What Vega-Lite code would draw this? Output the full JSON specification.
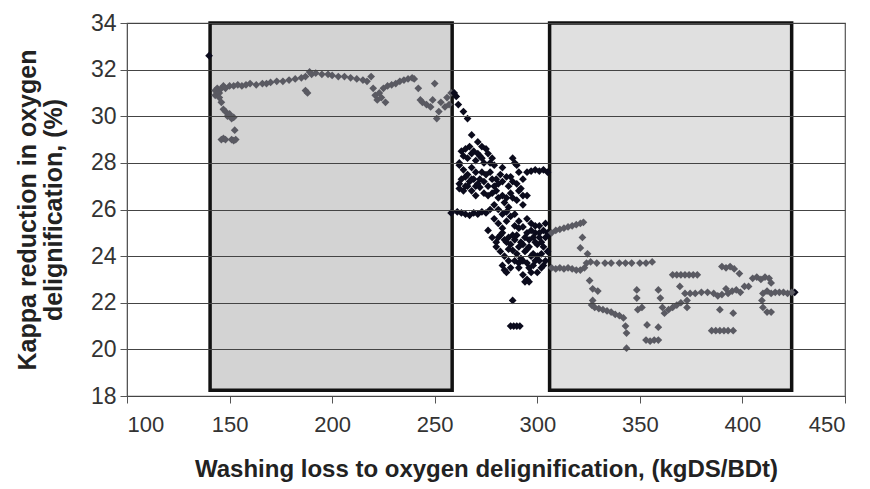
{
  "$schema": "https://vega.github.io/schema/vega-lite/v6.json",
  "width": 718,
  "height": 373,
  "autosize": {"type": "none"},
  "padding": {"left": 127, "top": 23, "right": 25, "bottom": 93},
  "background": "white",
  "config": {
    "font": "Liberation Sans",
    "view": {"stroke": "#555", "strokeWidth": 1.2}
  },
  "datasets": {
    "zones": [
      {"zone": "A", "x1": 140.5, "x2": 258.5, "y1": 18.25, "y2": 34},
      {"zone": "C", "x1": 306, "x2": 424, "y1": 18.25, "y2": 34}
    ],
    "pts": [
      {"g": "gray", "x": 143, "y": 31.1}, {"g": "gray", "x": 143, "y": 30.9}, {"g": "gray", "x": 144, "y": 31.2}, {"g": "gray", "x": 144, "y": 31.0}, {"g": "gray", "x": 145, "y": 31.0}, {"g": "gray", "x": 145, "y": 30.8}, {"g": "gray", "x": 146, "y": 31.2}, {"g": "gray", "x": 147, "y": 31.3}, {"g": "gray", "x": 148, "y": 31.2}, {"g": "gray", "x": 150, "y": 31.3}, {"g": "gray", "x": 152, "y": 31.3}, {"g": "gray", "x": 154, "y": 31.35}, {"g": "gray", "x": 156, "y": 31.3}, {"g": "gray", "x": 158, "y": 31.35}, {"g": "gray", "x": 160, "y": 31.4}, {"g": "gray", "x": 163, "y": 31.35}, {"g": "gray", "x": 166, "y": 31.4}, {"g": "gray", "x": 168, "y": 31.4}, {"g": "gray", "x": 170, "y": 31.45}, {"g": "gray", "x": 173, "y": 31.5}, {"g": "gray", "x": 176, "y": 31.5}, {"g": "gray", "x": 179, "y": 31.55}, {"g": "gray", "x": 182, "y": 31.6}, {"g": "gray", "x": 185, "y": 31.65}, {"g": "gray", "x": 187, "y": 31.7}, {"g": "gray", "x": 189, "y": 31.9}, {"g": "gray", "x": 190, "y": 31.8}, {"g": "gray", "x": 192, "y": 31.85}, {"g": "gray", "x": 195, "y": 31.8}, {"g": "gray", "x": 198, "y": 31.8}, {"g": "gray", "x": 200, "y": 31.75}, {"g": "gray", "x": 203, "y": 31.7}, {"g": "gray", "x": 206, "y": 31.7}, {"g": "gray", "x": 209, "y": 31.65}, {"g": "gray", "x": 212, "y": 31.6}, {"g": "gray", "x": 215, "y": 31.55}, {"g": "gray", "x": 217, "y": 31.5}, {"g": "gray", "x": 219, "y": 31.7}, {"g": "gray", "x": 220, "y": 31.2}, {"g": "gray", "x": 221, "y": 30.9}, {"g": "gray", "x": 222, "y": 30.7}, {"g": "gray", "x": 223, "y": 31.0}, {"g": "gray", "x": 224, "y": 30.8}, {"g": "gray", "x": 225, "y": 31.2}, {"g": "gray", "x": 226, "y": 30.6}, {"g": "gray", "x": 227, "y": 31.3}, {"g": "gray", "x": 229, "y": 31.35}, {"g": "gray", "x": 231, "y": 31.4}, {"g": "gray", "x": 233, "y": 31.5}, {"g": "gray", "x": 235, "y": 31.55}, {"g": "gray", "x": 237, "y": 31.6}, {"g": "gray", "x": 239, "y": 31.65}, {"g": "gray", "x": 240, "y": 31.6}, {"g": "gray", "x": 242, "y": 31.2}, {"g": "gray", "x": 243, "y": 30.7}, {"g": "gray", "x": 244, "y": 30.6}, {"g": "gray", "x": 246, "y": 30.5}, {"g": "gray", "x": 248, "y": 30.4}, {"g": "gray", "x": 249, "y": 30.7}, {"g": "gray", "x": 250, "y": 31.4}, {"g": "gray", "x": 251, "y": 29.9}, {"g": "gray", "x": 252, "y": 30.2}, {"g": "gray", "x": 253, "y": 30.6}, {"g": "gray", "x": 255, "y": 30.4}, {"g": "gray", "x": 256, "y": 30.8}, {"g": "gray", "x": 257, "y": 30.5}, {"g": "gray", "x": 258, "y": 31.0}, {"g": "gray", "x": 187, "y": 31.1}, {"g": "gray", "x": 188, "y": 31.0}, {"g": "gray", "x": 146, "y": 30.6}, {"g": "gray", "x": 147, "y": 30.3}, {"g": "gray", "x": 148, "y": 30.2}, {"g": "gray", "x": 149, "y": 30.0}, {"g": "gray", "x": 150, "y": 30.1}, {"g": "gray", "x": 151, "y": 29.9}, {"g": "gray", "x": 152, "y": 29.95}, {"g": "gray", "x": 152.5, "y": 29.4}, {"g": "gray", "x": 146, "y": 29.0}, {"g": "gray", "x": 147, "y": 29.05}, {"g": "gray", "x": 148, "y": 29.0}, {"g": "gray", "x": 151, "y": 29.0}, {"g": "gray", "x": 152, "y": 28.95}, {"g": "gray", "x": 153, "y": 29.0},
      {"g": "black", "x": 140, "y": 32.6}, {"g": "black", "x": 259.5, "y": 31.0}, {"g": "black", "x": 260.5, "y": 30.85}, {"g": "black", "x": 261.5, "y": 30.5}, {"g": "black", "x": 264, "y": 30.2}, {"g": "black", "x": 266, "y": 29.9}, {"g": "black", "x": 268, "y": 29.2}, {"g": "black", "x": 271, "y": 28.9}, {"g": "black", "x": 273, "y": 28.7}, {"g": "black", "x": 264, "y": 28.3}, {"g": "black", "x": 266, "y": 28.2}, {"g": "black", "x": 268, "y": 28.4}, {"g": "black", "x": 270, "y": 28.1}, {"g": "black", "x": 272, "y": 28.3}, {"g": "black", "x": 274, "y": 28.0}, {"g": "black", "x": 276, "y": 28.4}, {"g": "black", "x": 278, "y": 28.2}, {"g": "black", "x": 262, "y": 27.9}, {"g": "black", "x": 264, "y": 27.7}, {"g": "black", "x": 266, "y": 27.5}, {"g": "black", "x": 268, "y": 27.8}, {"g": "black", "x": 270, "y": 27.6}, {"g": "black", "x": 272, "y": 27.3}, {"g": "black", "x": 262, "y": 27.1}, {"g": "black", "x": 265, "y": 27.4}, {"g": "black", "x": 268, "y": 26.8}, {"g": "black", "x": 270, "y": 27.0}, {"g": "black", "x": 272, "y": 26.95}, {"g": "black", "x": 274, "y": 27.2}, {"g": "black", "x": 276, "y": 27.0}, {"g": "black", "x": 278, "y": 27.3}, {"g": "black", "x": 280, "y": 27.3}, {"g": "black", "x": 282, "y": 27.5}, {"g": "black", "x": 283, "y": 27.8}, {"g": "black", "x": 285, "y": 27.4}, {"g": "black", "x": 287, "y": 27.4}, {"g": "black", "x": 288, "y": 28.2}, {"g": "black", "x": 289, "y": 28.0}, {"g": "black", "x": 290, "y": 27.9}, {"g": "black", "x": 291, "y": 27.6}, {"g": "black", "x": 293, "y": 27.3}, {"g": "black", "x": 295, "y": 27.6}, {"g": "black", "x": 297, "y": 27.65}, {"g": "black", "x": 299, "y": 27.7}, {"g": "black", "x": 301, "y": 27.65}, {"g": "black", "x": 303, "y": 27.7}, {"g": "black", "x": 305, "y": 27.6}, {"g": "black", "x": 278, "y": 26.7}, {"g": "black", "x": 280, "y": 26.8}, {"g": "black", "x": 283, "y": 26.6}, {"g": "black", "x": 285, "y": 26.5}, {"g": "black", "x": 287, "y": 26.7}, {"g": "black", "x": 290, "y": 26.4}, {"g": "black", "x": 293, "y": 26.6}, {"g": "black", "x": 295, "y": 26.6}, {"g": "black", "x": 277, "y": 26.0}, {"g": "black", "x": 258, "y": 25.85}, {"g": "black", "x": 261, "y": 25.9}, {"g": "black", "x": 263, "y": 25.85}, {"g": "black", "x": 265, "y": 25.8}, {"g": "black", "x": 267, "y": 25.75}, {"g": "black", "x": 269, "y": 25.85}, {"g": "black", "x": 271, "y": 25.8}, {"g": "black", "x": 273, "y": 25.9}, {"g": "black", "x": 275, "y": 25.85}, {"g": "black", "x": 279, "y": 25.6}, {"g": "black", "x": 281, "y": 25.4}, {"g": "black", "x": 283, "y": 25.2}, {"g": "black", "x": 285, "y": 25.5}, {"g": "black", "x": 287, "y": 25.7}, {"g": "black", "x": 289, "y": 25.3}, {"g": "black", "x": 291, "y": 25.2}, {"g": "black", "x": 293, "y": 25.25}, {"g": "black", "x": 295, "y": 25.0}, {"g": "black", "x": 297, "y": 25.4}, {"g": "black", "x": 299, "y": 25.3}, {"g": "black", "x": 301, "y": 25.3}, {"g": "black", "x": 304, "y": 25.4}, {"g": "black", "x": 305, "y": 25.0}, {"g": "black", "x": 276, "y": 25.1}, {"g": "black", "x": 278, "y": 24.8}, {"g": "black", "x": 280, "y": 24.6}, {"g": "black", "x": 282, "y": 24.9}, {"g": "black", "x": 283, "y": 25.0}, {"g": "black", "x": 285, "y": 24.6}, {"g": "black", "x": 287, "y": 24.5}, {"g": "black", "x": 289, "y": 24.7}, {"g": "black", "x": 290, "y": 24.9}, {"g": "black", "x": 292, "y": 24.6}, {"g": "black", "x": 294, "y": 24.8}, {"g": "black", "x": 296, "y": 24.7}, {"g": "black", "x": 298, "y": 24.8}, {"g": "black", "x": 300, "y": 24.5}, {"g": "black", "x": 302, "y": 24.6}, {"g": "black", "x": 304, "y": 24.8}, {"g": "black", "x": 280, "y": 24.4}, {"g": "black", "x": 282, "y": 24.2}, {"g": "black", "x": 284, "y": 24.0}, {"g": "black", "x": 286, "y": 24.3}, {"g": "black", "x": 288, "y": 24.25}, {"g": "black", "x": 290, "y": 24.1}, {"g": "black", "x": 292, "y": 23.9}, {"g": "black", "x": 294, "y": 24.2}, {"g": "black", "x": 296, "y": 24.4}, {"g": "black", "x": 298, "y": 24.1}, {"g": "black", "x": 300, "y": 24.0}, {"g": "black", "x": 302, "y": 24.1}, {"g": "black", "x": 304, "y": 23.8}, {"g": "black", "x": 305, "y": 24.2}, {"g": "black", "x": 283, "y": 23.6}, {"g": "black", "x": 285, "y": 23.3}, {"g": "black", "x": 287, "y": 23.5}, {"g": "black", "x": 291, "y": 23.7}, {"g": "black", "x": 293, "y": 23.2}, {"g": "black", "x": 295, "y": 23.0}, {"g": "black", "x": 296, "y": 23.5}, {"g": "black", "x": 298, "y": 23.6}, {"g": "black", "x": 300, "y": 23.3}, {"g": "black", "x": 302, "y": 23.5}, {"g": "black", "x": 288, "y": 22.1}, {"g": "black", "x": 287, "y": 21.0}, {"g": "black", "x": 288.5, "y": 21.0}, {"g": "black", "x": 290, "y": 21.0}, {"g": "black", "x": 291.5, "y": 21.0}, {"g": "black", "x": 305.5, "y": 24.95}, {"g": "black", "x": 425.5, "y": 22.45},
      {"g": "black", "x": 262, "y": 28.0}, {"g": "black", "x": 263, "y": 28.5}, {"g": "black", "x": 265, "y": 28.6}, {"g": "black", "x": 267, "y": 28.7}, {"g": "black", "x": 269, "y": 28.5}, {"g": "black", "x": 271, "y": 28.4}, {"g": "black", "x": 273, "y": 28.2}, {"g": "black", "x": 275, "y": 28.6}, {"g": "black", "x": 277, "y": 28.0}, {"g": "black", "x": 279, "y": 27.9}, {"g": "black", "x": 263, "y": 27.3}, {"g": "black", "x": 265, "y": 27.0}, {"g": "black", "x": 267, "y": 27.2}, {"g": "black", "x": 269, "y": 27.3}, {"g": "black", "x": 271, "y": 27.1}, {"g": "black", "x": 273, "y": 27.6}, {"g": "black", "x": 275, "y": 27.5}, {"g": "black", "x": 277, "y": 27.6}, {"g": "black", "x": 279, "y": 27.0}, {"g": "black", "x": 281, "y": 27.1}, {"g": "black", "x": 283, "y": 27.2}, {"g": "black", "x": 286, "y": 27.0}, {"g": "black", "x": 288, "y": 27.2}, {"g": "black", "x": 290, "y": 27.1}, {"g": "black", "x": 292, "y": 26.9}, {"g": "black", "x": 281, "y": 26.5}, {"g": "black", "x": 284, "y": 26.3}, {"g": "black", "x": 286, "y": 26.1}, {"g": "black", "x": 288, "y": 26.5}, {"g": "black", "x": 291, "y": 26.8}, {"g": "black", "x": 293, "y": 26.2}, {"g": "black", "x": 279, "y": 26.2}, {"g": "black", "x": 281, "y": 26.0}, {"g": "black", "x": 283, "y": 25.8}, {"g": "black", "x": 285, "y": 25.9}, {"g": "black", "x": 289, "y": 25.8}, {"g": "black", "x": 291, "y": 25.5}, {"g": "black", "x": 295, "y": 25.6}, {"g": "black", "x": 297, "y": 25.1}, {"g": "black", "x": 299, "y": 25.0}, {"g": "black", "x": 301, "y": 25.0}, {"g": "black", "x": 303, "y": 25.1}, {"g": "black", "x": 281, "y": 24.8}, {"g": "black", "x": 284, "y": 24.7}, {"g": "black", "x": 286, "y": 24.8}, {"g": "black", "x": 288, "y": 24.9}, {"g": "black", "x": 291, "y": 24.4}, {"g": "black", "x": 293, "y": 24.5}, {"g": "black", "x": 295, "y": 24.3}, {"g": "black", "x": 297, "y": 24.0}, {"g": "black", "x": 299, "y": 24.6}, {"g": "black", "x": 301, "y": 24.8}, {"g": "black", "x": 303, "y": 24.4}, {"g": "black", "x": 289, "y": 23.8}, {"g": "black", "x": 291, "y": 23.5}, {"g": "black", "x": 293, "y": 23.8}, {"g": "black", "x": 295, "y": 23.7}, {"g": "black", "x": 297, "y": 23.3}, {"g": "black", "x": 299, "y": 23.8}, {"g": "black", "x": 301, "y": 23.8}, {"g": "black", "x": 303, "y": 23.6}, {"g": "black", "x": 286, "y": 23.8}, {"g": "black", "x": 284, "y": 23.4}, {"g": "black", "x": 294, "y": 22.9}, {"g": "black", "x": 296, "y": 22.9}, {"g": "black", "x": 262, "y": 26.9}, {"g": "black", "x": 264, "y": 26.8}, {"g": "black", "x": 266, "y": 27.0}, {"g": "black", "x": 268, "y": 27.3}, {"g": "black", "x": 270, "y": 26.6}, {"g": "black", "x": 274, "y": 26.7}, {"g": "black", "x": 276, "y": 26.6},
      {"g": "gray", "x": 307, "y": 25.0}, {"g": "gray", "x": 309, "y": 25.1}, {"g": "gray", "x": 311, "y": 25.15}, {"g": "gray", "x": 313, "y": 25.2}, {"g": "gray", "x": 315, "y": 25.25}, {"g": "gray", "x": 317, "y": 25.3}, {"g": "gray", "x": 319, "y": 25.35}, {"g": "gray", "x": 321, "y": 25.4}, {"g": "gray", "x": 322.5, "y": 25.45}, {"g": "gray", "x": 322, "y": 24.8}, {"g": "gray", "x": 321, "y": 24.35}, {"g": "gray", "x": 324.5, "y": 24.1}, {"g": "gray", "x": 324, "y": 23.7}, {"g": "gray", "x": 307, "y": 23.5}, {"g": "gray", "x": 309, "y": 23.45}, {"g": "gray", "x": 311, "y": 23.5}, {"g": "gray", "x": 313, "y": 23.45}, {"g": "gray", "x": 315, "y": 23.5}, {"g": "gray", "x": 317, "y": 23.45}, {"g": "gray", "x": 319, "y": 23.4}, {"g": "gray", "x": 321, "y": 23.4}, {"g": "gray", "x": 323, "y": 23.5}, {"g": "gray", "x": 326, "y": 23.75}, {"g": "gray", "x": 329, "y": 23.7}, {"g": "gray", "x": 333, "y": 23.7}, {"g": "gray", "x": 336, "y": 23.7}, {"g": "gray", "x": 340, "y": 23.7}, {"g": "gray", "x": 343, "y": 23.7}, {"g": "gray", "x": 346, "y": 23.7}, {"g": "gray", "x": 350, "y": 23.7}, {"g": "gray", "x": 353, "y": 23.7}, {"g": "gray", "x": 356, "y": 23.75}, {"g": "gray", "x": 325.5, "y": 22.95}, {"g": "gray", "x": 327, "y": 22.6}, {"g": "gray", "x": 329.5, "y": 22.5}, {"g": "gray", "x": 327, "y": 22.1}, {"g": "gray", "x": 326.5, "y": 21.9}, {"g": "gray", "x": 328, "y": 21.8}, {"g": "gray", "x": 330, "y": 21.75}, {"g": "gray", "x": 332, "y": 21.7}, {"g": "gray", "x": 334, "y": 21.65}, {"g": "gray", "x": 336, "y": 21.6}, {"g": "gray", "x": 338, "y": 21.5}, {"g": "gray", "x": 340, "y": 21.45}, {"g": "gray", "x": 342, "y": 21.35}, {"g": "gray", "x": 343, "y": 21.0}, {"g": "gray", "x": 343.5, "y": 20.7}, {"g": "gray", "x": 343.5, "y": 20.05}, {"g": "gray", "x": 348.5, "y": 22.55}, {"g": "gray", "x": 348.5, "y": 22.2}, {"g": "gray", "x": 351, "y": 21.8}, {"g": "gray", "x": 349, "y": 21.7}, {"g": "gray", "x": 353.5, "y": 21.05}, {"g": "gray", "x": 359, "y": 20.95}, {"g": "gray", "x": 353, "y": 20.4}, {"g": "gray", "x": 355, "y": 20.35}, {"g": "gray", "x": 357, "y": 20.4}, {"g": "gray", "x": 359, "y": 20.4}, {"g": "gray", "x": 359, "y": 22.55}, {"g": "gray", "x": 360, "y": 22.2}, {"g": "gray", "x": 361, "y": 21.8}, {"g": "gray", "x": 362, "y": 21.55}, {"g": "gray", "x": 364, "y": 21.7}, {"g": "gray", "x": 366, "y": 21.8}, {"g": "gray", "x": 368, "y": 21.9}, {"g": "gray", "x": 370, "y": 22.0}, {"g": "gray", "x": 372, "y": 22.4}, {"g": "gray", "x": 369.5, "y": 22.7}, {"g": "gray", "x": 373, "y": 22.1}, {"g": "gray", "x": 366, "y": 23.2}, {"g": "gray", "x": 368, "y": 23.2}, {"g": "gray", "x": 370, "y": 23.2}, {"g": "gray", "x": 372, "y": 23.2}, {"g": "gray", "x": 374, "y": 23.2}, {"g": "gray", "x": 376, "y": 23.2}, {"g": "gray", "x": 378, "y": 23.2}, {"g": "gray", "x": 374.5, "y": 22.4}, {"g": "gray", "x": 373, "y": 21.8}, {"g": "gray", "x": 377, "y": 22.4}, {"g": "gray", "x": 380, "y": 22.45}, {"g": "gray", "x": 383, "y": 22.45}, {"g": "gray", "x": 386, "y": 22.4}, {"g": "gray", "x": 388, "y": 22.3}, {"g": "gray", "x": 390, "y": 22.35}, {"g": "gray", "x": 392, "y": 22.6}, {"g": "gray", "x": 393, "y": 22.4}, {"g": "gray", "x": 395, "y": 22.5}, {"g": "gray", "x": 397, "y": 22.55}, {"g": "gray", "x": 399, "y": 22.45}, {"g": "gray", "x": 401, "y": 22.7}, {"g": "gray", "x": 403, "y": 22.7}, {"g": "gray", "x": 389, "y": 21.7}, {"g": "gray", "x": 395.5, "y": 21.55}, {"g": "gray", "x": 385, "y": 20.8}, {"g": "gray", "x": 387, "y": 20.8}, {"g": "gray", "x": 389, "y": 20.8}, {"g": "gray", "x": 391, "y": 20.8}, {"g": "gray", "x": 393, "y": 20.8}, {"g": "gray", "x": 395.5, "y": 20.8}, {"g": "gray", "x": 390, "y": 23.55}, {"g": "gray", "x": 392, "y": 23.5}, {"g": "gray", "x": 394, "y": 23.55}, {"g": "gray", "x": 396, "y": 23.45}, {"g": "gray", "x": 398.5, "y": 23.25}, {"g": "gray", "x": 405, "y": 23.05}, {"g": "gray", "x": 407, "y": 23.1}, {"g": "gray", "x": 409, "y": 23.0}, {"g": "gray", "x": 411, "y": 23.1}, {"g": "gray", "x": 413, "y": 23.05}, {"g": "gray", "x": 414, "y": 22.85}, {"g": "gray", "x": 410, "y": 22.4}, {"g": "gray", "x": 412, "y": 22.5}, {"g": "gray", "x": 414, "y": 22.4}, {"g": "gray", "x": 416, "y": 22.45}, {"g": "gray", "x": 418, "y": 22.45}, {"g": "gray", "x": 420, "y": 22.45}, {"g": "gray", "x": 422, "y": 22.4}, {"g": "gray", "x": 424, "y": 22.45}, {"g": "gray", "x": 409.5, "y": 22.1}, {"g": "gray", "x": 410, "y": 21.8}, {"g": "gray", "x": 412, "y": 21.6}, {"g": "gray", "x": 414, "y": 21.6}
    ]
  },
  "layer": [
    {
      "data": {"name": "zones"},
      "mark": {"type": "rect", "stroke": "#111", "strokeWidth": 3.5},
      "encoding": {
        "x": {"field": "x1", "type": "quantitative", "scale": {"domain": [100, 450], "nice": false, "zero": false},
          "axis": {"values": [100, 150, 200, 250, 300, 350, 400, 450], "grid": false, "domainColor": "#555", "tickColor": "#555", "tickSize": 7, "labelFontSize": 22, "labelColor": "#333", "labelPadding": 11, "title": "Washing loss to oxygen delignification, (kgDS/BDt)", "titleFontSize": 24, "titleFontWeight": "bold", "titleColor": "#222", "titlePadding": 22}},
        "x2": {"field": "x2"},
        "y": {"field": "y1", "type": "quantitative", "scale": {"domain": [18, 34], "nice": false, "zero": false},
          "axis": {"values": [18, 20, 22, 24, 26, 28, 30, 32, 34], "grid": true, "gridColor": "#444", "gridWidth": 1.2, "domainColor": "#555", "tickColor": "#555", "tickSize": 7, "labelFontSize": 23, "labelColor": "#333", "labelPadding": 4, "title": ["Kappa reduction in oxygen", "delignification, (%)"], "titleFontSize": 25, "titleFontWeight": "bold", "titleColor": "#222", "titleLineHeight": 26, "titlePadding": 24, "zindex": 1}},
        "y2": {"field": "y2"},
        "color": {"field": "zone", "type": "nominal", "scale": {"domain": ["A", "C"], "range": ["#d3d3d3", "#e0e0e0"]}, "legend": null}
      }
    },
    {
      "data": {"name": "pts"},
      "mark": {"type": "point", "shape": "diamond", "filled": true, "size": 60, "opacity": 1},
      "encoding": {
        "x": {"field": "x", "type": "quantitative"},
        "y": {"field": "y", "type": "quantitative"},
        "color": {"field": "g", "type": "nominal", "scale": {"domain": ["gray", "black"], "range": ["#5a5a62", "#0b0b1c"]}, "legend": null}
      }
    }
  ],
  "resolve": {"scale": {"color": "independent"}}
}
